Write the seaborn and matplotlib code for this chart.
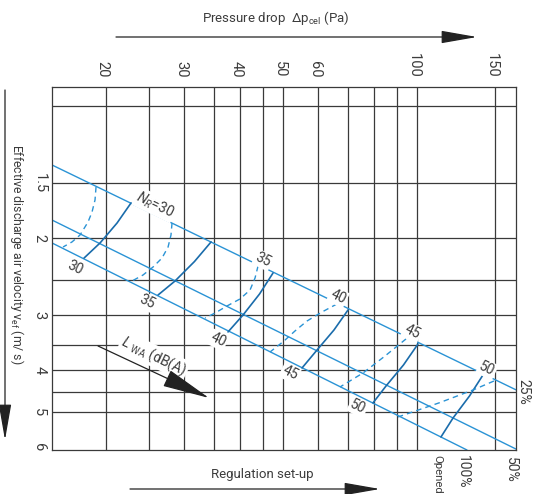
import numpy as np
import pandas as pd
import matplotlib
matplotlib.use("Agg")
import matplotlib.pyplot as plt
from matplotlib.patches import FancyArrowPatch
from matplotlib.ticker import NullLocator, FixedLocator, FixedFormatter
from matplotlib.transforms import ScaledTranslation
import seaborn as sns

# ---------------- data ----------------
p_lim = (15.12, 166.9)          # pressure drop (Pa), log axis
v_lim = (6.09, 0.905)           # velocity (m/s), log axis, inverted
p_grid = [20, 25, 30, 35, 40, 45, 50, 60, 70, 80, 90, 100, 150]
v_grid = [1.0, 1.5, 2, 2.5, 3, 3.5, 4, 4.5, 5]
p_ticks = [20, 30, 40, 50, 60, 100, 150]
p_ticklabels = ["20", "30", "40", "50", "60", "100", "150"]
v_ticks = [1.5, 2, 3, 4, 5, 6]
v_ticklabels = ["1.5", "2", "3", "4", "5", "6"]

# regulation set-up lines (25 %, 50 %, 100 %)
reg_names = ["25%", "50%", "100%"]
reg_p = [[15.12, 166.9], [15.12, 166.9], [15.12, 129.5]]
reg_v = [[1.363, 4.44], [1.820, 6.06], [2.053, 6.09]]

# solid iso curves
s1_p = [22.76, 21.17, 19.39, 17.85]; s1_v = [1.664, 1.849, 2.053, 2.222]
s2_p = [34.44, 31.61, 28.58, 26.18]; s2_v = [2.042, 2.263, 2.507, 2.698]
s3_p = [47.46, 44.26, 40.64, 37.60]; s3_v = [2.404, 2.684, 2.997, 3.276]
s4_p = [69.97, 65.07, 59.60, 55.15]; s4_v = [2.919, 3.242, 3.602, 3.958]
s5_p = [100.5, 93.24, 85.18, 79.62]; s5_v = [3.490, 3.896, 4.351, 4.756]
s6_p = [140.7, 131.2, 120.5, 113.2]; s6_v = [4.106, 4.586, 5.147, 5.687]

# dashed iso curves
d1_p = [18.99, 18.89, 18.60, 18.22, 17.48, 16.77, 16.01]
d1_v = [1.530, 1.638, 1.745, 1.839, 1.969, 2.042, 2.097]
d2_p = [28.14, 27.99, 27.57, 26.72, 25.51, 24.22, 22.88]
d2_v = [1.849, 1.969, 2.097, 2.222, 2.329, 2.429, 2.507]
d3_p = [43.92, 43.24, 42.14, 40.01, 37.41, 35.16, 33.39]
d3_v = [2.317, 2.468, 2.628, 2.755, 2.858, 2.966, 3.045]
d4_p = [66.09, 61.15, 56.59, 53.18, 50.24, 46.73]
d4_v = [2.828, 2.950, 3.093, 3.259, 3.435, 3.640]
d5_p = [94.45, 84.74, 75.61, 67.12]
d5_v = [3.399, 3.717, 4.064, 4.374]
d6_p = [148.9, 133.6, 112.0, 90.62]
d6_v = [4.239, 4.444, 4.756, 5.120]

# labels
nr_labels = [r"$N_R$=30", "35", "40", "45", "50"]
nr_p = [25.77, 45.07, 66.43, 97.43, 143.7]
nr_v = [1.681, 2.245, 2.726, 3.276, 3.979]
lwa_labels = ["30", "35", "40", "45", "50"]
lwa_p = [17.04, 24.73, 35.71, 51.82, 73.68]
lwa_v = [2.341, 2.799, 3.417, 4.064, 4.857]

# ---------------- style ----------------
sns.set_style("white")
FONT = ["Roboto", "DejaVu Sans"]
plt.rcParams["font.family"] = FONT
plt.rcParams["mathtext.fontset"] = "custom"
plt.rcParams["mathtext.rm"] = "Roboto"
plt.rcParams["mathtext.it"] = "Roboto:italic"

TXT = "#3c3c3c"
GRID = "#3a3a3a"
LIGHT = "#2a93d5"
DARK = "#1a6cab"

W, H = 536, 494
fig = plt.figure(figsize=(W / 100, H / 100), dpi=100)
fx = lambda x: x / W
fy = lambda y: 1 - y / H
ax = fig.add_axes([fx(52), fy(450), (516 - 52) / W, (450 - 87) / H])
ax.set_xscale("log")
ax.set_yscale("log")
ax.set_xlim(*p_lim)
ax.set_ylim(*v_lim)

for p in p_grid:
    ax.axvline(p, color=GRID, lw=0.9, zorder=1)
for v in v_grid:
    ax.axhline(v, color=GRID, lw=0.9, zorder=1)
for s in ax.spines.values():
    s.set_color(GRID)
    s.set_linewidth(0.9)

# build frames
rows = []
for name, pp, vv in zip(reg_names, reg_p, reg_v):
    for a, b in zip(pp, vv):
        rows.append(("reg", name, a, b))
for i, (pp, vv) in enumerate([(s1_p, s1_v), (s2_p, s2_v), (s3_p, s3_v),
                              (s4_p, s4_v), (s5_p, s5_v), (s6_p, s6_v)]):
    for a, b in zip(pp, vv):
        rows.append(("solid", f"s{i}", a, b))
for i, (pp, vv) in enumerate([(d1_p, d1_v), (d2_p, d2_v), (d3_p, d3_v),
                              (d4_p, d4_v), (d5_p, d5_v), (d6_p, d6_v)]):
    for a, b in zip(pp, vv):
        rows.append(("dash", f"d{i}", a, b))
df = pd.DataFrame(rows, columns=["kind", "curve", "p", "v"])

sns.lineplot(data=df[df.kind == "reg"], x="p", y="v", units="curve",
             estimator=None, sort=False, color=LIGHT, lw=1.0, ax=ax, zorder=2)
sns.lineplot(data=df[df.kind == "solid"], x="p", y="v", units="curve",
             estimator=None, sort=False, color=DARK, lw=1.2, ax=ax, zorder=2)
sns.lineplot(data=df[df.kind == "dash"], x="p", y="v", units="curve",
             estimator=None, sort=False, color=LIGHT, lw=1.0,
             linestyle=(0, (4, 3)), ax=ax, zorder=2)
ax.set_xlim(*p_lim)
ax.set_ylim(*v_lim)

# ticks
ax.xaxis.set_major_locator(FixedLocator(p_ticks))
ax.xaxis.set_major_formatter(FixedFormatter(p_ticklabels))
ax.xaxis.set_minor_locator(NullLocator())
ax.yaxis.set_major_locator(FixedLocator(v_ticks))
ax.yaxis.set_major_formatter(FixedFormatter(v_ticklabels))
ax.yaxis.set_minor_locator(NullLocator())
ax.xaxis.tick_top()
ax.tick_params(axis="x", length=0, pad=7, labelsize=10.5, colors=TXT,
               labelrotation=-90)
ax.tick_params(axis="y", length=0, pad=4, labelsize=10.5, colors=TXT,
               labelrotation=-90)
shift = ScaledTranslation(-0.035, 0, fig.dpi_scale_trans)
for t in ax.get_xticklabels():
    t.set_transform(t.get_transform() + shift)
for t in ax.get_yticklabels():
    t.set_va("center")
ax.set_xlabel("")
ax.set_ylabel("")

bb = dict(facecolor="white", edgecolor="none", pad=1.0)
for t, p, v in zip(nr_labels, nr_p, nr_v):
    ax.text(p, v, t, rotation=-26, ha="center", va="center", fontsize=10,
            color=TXT, bbox=bb, zorder=3)
for t, p, v in zip(lwa_labels, lwa_p, lwa_v):
    ax.text(p, v, t, rotation=-26, ha="center", va="center", fontsize=10,
            color=TXT, bbox=bb, zorder=3)

ax.text(25.64, 3.717, r"$L$ $_{\mathrm{WA}}$ (dB(A)", rotation=-26, ha="center",
        va="center", fontsize=10, color=TXT, bbox=bb, zorder=3)
ax.annotate("", xy=(34.08, 4.634), xytext=(19.19, 3.527),
            arrowprops=dict(arrowstyle="-|>,head_length=1.9,head_width=0.35",
                            mutation_scale=16, color="#222222", lw=0.9,
                            shrinkA=0, shrinkB=0), zorder=4)

# outer annotations
fig.text(fx(276), fy(18), r"Pressure drop  $\Delta$p$_{\mathrm{cel}}$ (Pa)",
         ha="center", va="center", fontsize=9.5, color=TXT)
fig.text(fx(262), fy(474), "Regulation set-up", ha="center", va="center",
         fontsize=9.5, color=TXT)
fig.text(fx(17), fy(254), r"Effective discharge air velocity v$_{\mathrm{ef}}$ (m/ s)",
         rotation=-90, ha="center", va="center", fontsize=8.8, color=TXT)


def farrow(x0, y0, x1, y1):
    fig.add_artist(FancyArrowPatch((fx(x0), fy(y0)), (fx(x1), fy(y1)),
                                   transform=fig.transFigure,
                                   arrowstyle="-|>,head_length=1.6,head_width=0.28",
                                   mutation_scale=14, color="#222222", lw=0.9,
                                   shrinkA=0, shrinkB=0))


farrow(116, 37, 477, 37)
farrow(130, 489, 380, 489)
farrow(5, 90, 5, 440)

fig.text(fx(523), fy(392), "25%", rotation=-90, ha="center", va="center",
         fontsize=10, color=TXT)
fig.text(fx(437), fy(455), "Opened", rotation=-90, ha="center", va="top",
         fontsize=8.2, color=TXT)
fig.text(fx(463), fy(455), "100%", rotation=-90, ha="center", va="top",
         fontsize=10, color=TXT)
fig.text(fx(511), fy(457), "50%", rotation=-90, ha="center", va="top",
         fontsize=10, color=TXT)

fig.savefig("out.png", dpi=100)
